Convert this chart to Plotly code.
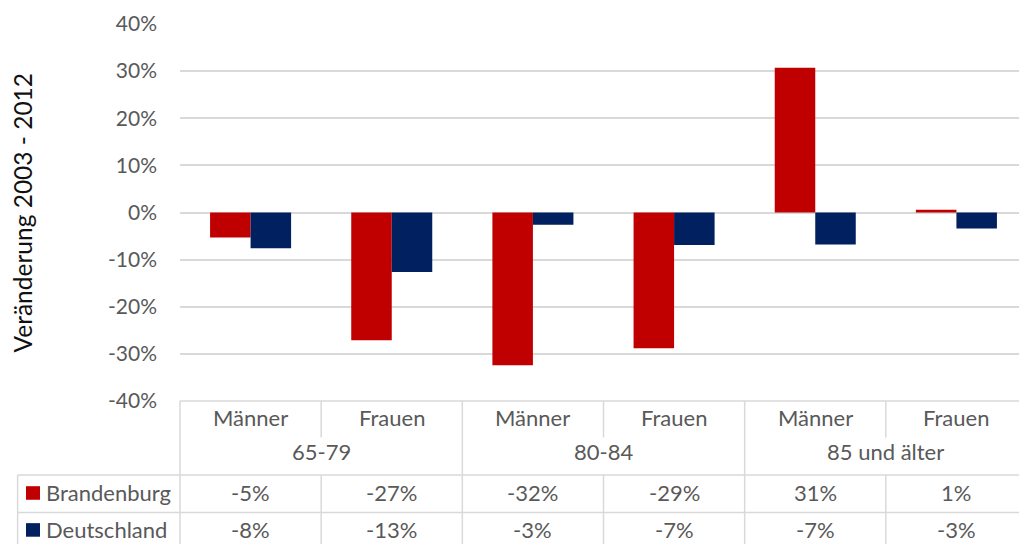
import plotly.graph_objects as go

# categories (inner = sex, outer = age group)
sexes = ["Männer", "Frauen", "Männer", "Frauen", "Männer", "Frauen"]
age_groups = ["65-79", "80-84", "85 und älter"]
categories = ["65-79 Männer", "65-79 Frauen", "80-84 Männer", "80-84 Frauen",
              "85+ Männer", "85+ Frauen"]

# Veränderung 2003 - 2012 (share)
brandenburg = [-0.053, -0.271, -0.324, -0.288, 0.307, 0.006]
deutschland = [-0.076, -0.126, -0.026, -0.069, -0.068, -0.034]

tick_vals = [-0.4, -0.3, -0.2, -0.1, 0, 0.1, 0.2, 0.3, 0.4]
tick_text = ["-40%", "-30%", "-20%", "-10%", "0%", "10%", "20%", "30%", "40%"]

RED = "#C00000"
NAVY = "#002060"
GRID = "#D9D9D9"
TXT = "#595959"
FONT = "Lato, Open Sans, sans-serif"
FS = 22

fig = go.Figure()
fig.add_trace(go.Bar(x=categories, y=brandenburg, name="Brandenburg",
                     marker=dict(color=RED, line=dict(width=0))))
fig.add_trace(go.Bar(x=categories, y=deutschland, name="Deutschland",
                     marker=dict(color=NAVY, line=dict(width=0))))

ann = []
shp = []

def pct(v):
    return f"{round(v * 100):.0f}%"

def cell(x, y, text, xref="x", xanchor="center"):
    return dict(x=x, y=y, xref=xref, yref="paper", text=text, showarrow=False,
                xanchor=xanchor, yanchor="middle", font=dict(size=FS, color=TXT))

# row y positions in paper coords (table under plot area)
y_sex, y_age, y_b, y_d = -0.045, -0.135, -0.244, -0.342
line_sex, line_rows, line_mid, line_bot = -0.0968, -0.196, -0.296, -0.40
x_left = -0.1917

for i, cat in enumerate(categories):
    ann.append(cell(i, y_sex, sexes[i]))
    ann.append(cell(i, y_b, pct(brandenburg[i])))
    ann.append(cell(i, y_d, pct(deutschland[i])))
for j, g in enumerate(age_groups):
    ann.append(cell(2 * j + 0.5, y_age, g))

# row labels with legend keys
for name, col, yy in [("Brandenburg", RED, y_b), ("Deutschland", NAVY, y_d)]:
    ann.append(cell(-0.1605, yy, name, xref="paper", xanchor="left"))
    shp.append(dict(type="rect", xref="paper", yref="paper",
                    x0=-0.1818, x1=-0.1653, y0=yy - 0.018, y1=yy + 0.018,
                    fillcolor=col, line=dict(width=0)))

ln = dict(color=GRID, width=1.5)
# horizontal lines: plot bottom and table rows
shp.append(dict(type="line", xref="paper", yref="paper", x0=0, x1=1,
                y0=0, y1=0, line=ln))
for yy in (line_rows, line_mid):
    shp.append(dict(type="line", xref="paper", yref="paper", x0=x_left, x1=1,
                    y0=yy, y1=yy, line=ln))
# vertical lines
shp.append(dict(type="line", xref="paper", yref="paper", x0=x_left, x1=x_left,
                y0=line_rows, y1=line_bot, line=ln))
shp.append(dict(type="line", xref="paper", yref="paper", x0=0, x1=0,
                y0=0, y1=line_bot, line=ln))
for k in range(5):
    xx = k + 0.5
    if k % 2 == 1:
        shp.append(dict(type="line", xref="x", yref="paper", x0=xx, x1=xx,
                        y0=0, y1=line_bot, line=ln))
    else:
        shp.append(dict(type="line", xref="x", yref="paper", x0=xx, x1=xx,
                        y0=0, y1=line_sex, line=ln))
        shp.append(dict(type="line", xref="x", yref="paper", x0=xx, x1=xx,
                        y0=line_rows, y1=line_bot, line=ln))

# y axis title
ann.append(dict(x=-0.1854, y=0.5, xref="paper", yref="paper",
                xanchor="center", yanchor="middle",
                text="Veränderung 2003 - 2012", textangle=-90, showarrow=False,
                font=dict(size=24.5, color="#111111")))

# page body has an 8px margin: figure starts at (8, 8) in the window
fig.update_layout(
    width=1019, height=536,
    margin=dict(l=172, r=0, t=16, b=143, autoexpand=False),
    paper_bgcolor="white", plot_bgcolor="white",
    font=dict(family=FONT, size=FS, color=TXT),
    barmode="group", bargap=0.426, bargroupgap=0,
    showlegend=False,
    annotations=ann, shapes=shp,
)
fig.update_xaxes(type="category", showticklabels=False, showgrid=False,
                 zeroline=False, showline=False, range=[-0.5, 5.5])
fig.update_yaxes(range=[-0.4, 0.4], tickvals=tick_vals, ticktext=tick_text,
                 showgrid=True, gridcolor=GRID, gridwidth=1.5,
                 zeroline=True, zerolinecolor=GRID, zerolinewidth=1.5,
                 showline=False, ticklabelstandoff=22,
                 tickfont=dict(size=21, color=TXT))

fig.write_html("out.html")
